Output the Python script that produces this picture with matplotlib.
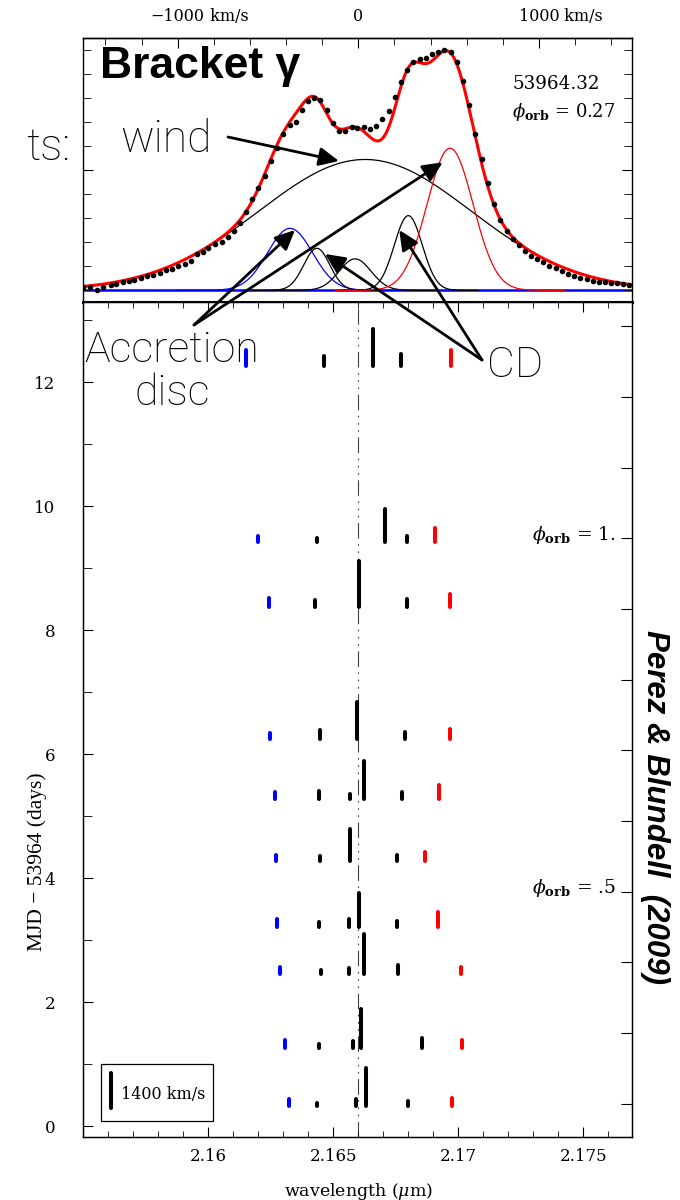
import numpy as np
import matplotlib
matplotlib.use('Agg')
import matplotlib.pyplot as plt
from matplotlib.patches import FancyArrowPatch, Rectangle
from matplotlib.ticker import MultipleLocator, FixedLocator

plt.rcParams['font.family'] = ['DejaVu Serif']
plt.rcParams['mathtext.fontset'] = 'dejavuserif'

C_KMS = 299792.458
LAM0 = 2.166          # Br gamma, zero velocity (micron)

# ---- upper panel: observed profile at MJD 53964.32 (flux above continuum)
spec_wl = [2.15500, 2.15527, 2.15556, 2.15580, 2.15610, 2.15631, 2.15658, 2.15683,
           2.15703, 2.15731, 2.15754, 2.15780, 2.15807, 2.15831, 2.15854, 2.15880,
           2.15907, 2.15930, 2.15954, 2.15978, 2.15998, 2.16027, 2.16054, 2.16078,
           2.16102, 2.16127, 2.16151, 2.16176, 2.16200, 2.16227, 2.16251, 2.16275,
           2.16300, 2.16327, 2.16350, 2.16374, 2.16400, 2.16424, 2.16447, 2.16474,
           2.16498, 2.16523, 2.16547, 2.16574, 2.16596, 2.16623, 2.16647, 2.16671,
           2.16696, 2.16722, 2.16747, 2.16771, 2.16796, 2.16820, 2.16847, 2.16871,
           2.16896, 2.16920, 2.16944, 2.16970, 2.16994, 2.17020, 2.17044, 2.17068,
           2.17094, 2.17118, 2.17143, 2.17167, 2.17194, 2.17218, 2.17243, 2.17267,
           2.17291, 2.17316, 2.17340, 2.17364, 2.17390, 2.17414, 2.17438, 2.17464,
           2.17488, 2.17514, 2.17538, 2.17563, 2.17587, 2.17611, 2.17636, 2.17660,
           2.17684]
spec_flux = [0.13, 0.13, 0.00, 0.13, 0.22, 0.25, 0.36, 0.40, 0.43, 0.53, 0.61, 0.64,
             0.73, 0.83, 0.88, 1.03, 1.08, 1.23, 1.53, 1.61, 1.75, 1.92, 2.00, 2.23,
             2.47, 2.79, 3.26, 3.79, 4.25, 4.76, 5.40, 5.93, 6.51, 6.89, 7.00, 7.51,
             7.90, 8.03, 7.92, 7.51, 6.96, 6.64, 6.64, 6.82, 6.78, 6.79, 6.72, 6.85,
             7.13, 7.47, 8.05, 8.67, 9.18, 9.50, 9.63, 9.69, 9.83, 9.94, 10.01, 9.94,
             9.50, 8.72, 7.72, 6.53, 5.47, 4.46, 3.61, 2.93, 2.48, 2.14, 1.89, 1.65,
             1.44, 1.30, 1.17, 1.03, 0.92, 0.82, 0.68, 0.60, 0.53, 0.46, 0.40, 0.36,
             0.33, 0.32, 0.29, 0.28, 0.22]

# Gaussian components of the fit: wind, accretion disc (blue/red), circumbinary disc etc.
comp_names = ['wind', 'disc_blue', 'cd1', 'cd2', 'cd3', 'disc_red']
comp_center = [2.16627, 2.16327, 2.16434, 2.16587, 2.16800, 2.16967]
comp_amp = [5.45, 2.58, 1.75, 1.31, 3.11, 5.92]
comp_sigma = [0.00424, 0.00090, 0.00052, 0.00064, 0.00056, 0.00092]
comp_color = ['black', 'blue', 'black', 'black', 'black', 'red']

# ---- lower panel: fitted component centres and widths per epoch
epoch_day = [12.27, 9.42, 8.38, 6.24, 5.28, 4.28, 3.22, 2.45, 1.27, 0.32]
blue_wl = [2.16152, 2.16198, 2.16241, 2.16245, 2.16265, 2.16272, 2.16273, 2.16288, 2.16306, 2.16323]
blue_fwhm = [630, 270, 340, 280, 280, 260, 320, 320, 320, 320]
red_wl = [2.16972, 2.16908, 2.16968, 2.16965, 2.16924, 2.16865, 2.16920, 2.17010, 2.17014, 2.16976]
red_fwhm = [650, 600, 500, 420, 580, 360, 580, 320, 290, 350]
black_wl = [[2.16462, 2.16658, 2.16770],
            [2.16435, 2.16705, 2.16795],
            [2.16427, 2.16604, 2.16794],
            [2.16447, 2.16594, 2.16787],
            [2.16441, 2.16565, 2.16622, 2.16775],
            [2.16447, 2.16568, 2.16754],
            [2.16443, 2.16561, 2.16601, 2.16754],
            [2.16450, 2.16561, 2.16622, 2.16757],
            [2.16441, 2.16578, 2.16611, 2.16854],
            [2.16436, 2.16592, 2.16629, 2.16800]]
black_fwhm = [[390, 1490, 490],
              [170, 1350, 240],
              [280, 1880, 320],
              [380, 1510, 310],
              [310, 200, 1560, 280],
              [190, 1320, 230],
              [210, 320, 1380, 250],
              [190, 280, 1650, 390],
              [140, 280, 1560, 380],
              [150, 300, 1550, 230]]
legend_kms = 1400
BAR_SCALE = 0.555 / 1400.0      # days of bar length per km/s

# orbital phase scale on the right axis
phase_ref_day = 9.484            # phase 1.0
phase_period = 11.4

W, H = 680, 1200
fig = plt.figure(figsize=(W / 100, H / 100), dpi=100)
fig.patch.set_facecolor('white')


def fx(px):
    return px / W


def fy(py):
    return 1 - py / H


left, right = 83.3, 631.7
ax_top = fig.add_axes([fx(left), fy(301.7), fx(right - left), (301.7 - 38) / H])
ax_bot = fig.add_axes([fx(left), fy(1137.3), fx(right - left), (1137.3 - 301.7) / H])

xlim = (2.155, 2.176936)

# ---------------- upper panel
lam = np.linspace(xlim[0], xlim[1], 800)
total = np.zeros_like(lam)
ax_top.axhline(0, color='blue', lw=1.8, zorder=1)
for c, a, s, col in zip(comp_center, comp_amp, comp_sigma, comp_color):
    g = a * np.exp(-0.5 * ((lam - c) / s) ** 2)
    total += g
    sel = np.abs(lam - c) < 5 * s
    ax_top.plot(lam[sel], g[sel], color=col, lw=0.9, zorder=2)
ax_top.plot(lam, total, color='red', lw=2.2, zorder=3)
ax_top.plot(spec_wl, spec_flux, 'o', color='black', ms=3.0, zorder=4)

ax_top.set_xlim(xlim)
ax_top.set_ylim(-0.475, 10.51)
ax_top.yaxis.set_major_locator(FixedLocator([5]))
ax_top.yaxis.set_minor_locator(MultipleLocator(1))
ax_top.tick_params(axis='y', which='both', direction='in', left=True, right=True,
                   labelleft=False)
ax_top.tick_params(axis='y', which='major', length=7.5)
ax_top.tick_params(axis='y', which='minor', length=5.8)
ax_top.tick_params(axis='x', which='both', bottom=False, top=False, labelbottom=False)
for sp in ax_top.spines.values():
    sp.set_linewidth(1.0)
ax_top.spines['bottom'].set_linewidth(2.2)


def wl_to_v(wl):
    return (np.asarray(wl) / LAM0 - 1) * C_KMS


def v_to_wl(v):
    return LAM0 * (1 + np.asarray(v) / C_KMS)


secx = ax_top.secondary_xaxis('top', functions=(wl_to_v, v_to_wl))
secx.set_xticks([-1000, 0, 1000])
secx.set_xticklabels(['\u22121000', '0', '1000'])
secx.xaxis.set_minor_locator(MultipleLocator(200))
secx.tick_params(which='both', direction='in', labelsize=11.5, pad=9)
secx.tick_params(which='major', length=7)
secx.tick_params(which='minor', length=5)
secx.spines['top'].set_linewidth(1.0)

ax_top.text(fx(512), fy(84), '53964.32', transform=fig.transFigure, fontsize=13.2,
            va='center', ha='left')
ax_top.text(fx(512), fy(112), r'$\phi_{\mathbf{orb}}$ = 0.27', transform=fig.transFigure,
            fontsize=13, va='center', ha='left')

# ---------------- lower panel
ax_bot.axvline(LAM0, color='0.25', lw=0.8, dashes=(14, 5, 1.5, 5, 1.5, 5, 1.5, 5), zorder=1)
bar_kw = dict(lw=2.9, solid_capstyle='round', zorder=3)
for i, d in enumerate(epoch_day):
    ax_bot.plot([blue_wl[i]] * 2, [d, d + blue_fwhm[i] * BAR_SCALE], color='blue', **bar_kw)
    ax_bot.plot([red_wl[i]] * 2, [d, d + red_fwhm[i] * BAR_SCALE], color='red', **bar_kw)
    for w, f in zip(black_wl[i], black_fwhm[i]):
        ax_bot.plot([w, w], [d, d + f * BAR_SCALE], color='black', **bar_kw)

# scale bar legend
ax_bot.add_patch(Rectangle((2.155708, 0.085), 2.160200 - 2.155708, 1.0 - 0.085,
                           fill=False, lw=0.9, color='black', zorder=4))
ax_bot.plot([2.156096] * 2, [0.30, 0.30 + legend_kms * BAR_SCALE], color='black', **bar_kw)
ax_bot.text(2.156496, 0.52, f'{legend_kms} km/s', fontsize=11.5, va='center', ha='left')

ax_bot.set_xlim(xlim)
ax_bot.set_ylim(-0.177, 13.30)
ax_bot.xaxis.set_major_locator(MultipleLocator(0.005))
ax_bot.xaxis.set_minor_locator(MultipleLocator(0.001))
ax_bot.set_xticks([2.16, 2.165, 2.17, 2.175])
ax_bot.set_xticklabels(['2.16', '2.165', '2.17', '2.175'])
ax_bot.yaxis.set_major_locator(MultipleLocator(2))
ax_bot.yaxis.set_minor_locator(MultipleLocator(1))
ax_bot.tick_params(axis='x', which='both', direction='in', top=True, bottom=True,
                   labelsize=12, pad=8)
ax_bot.tick_params(axis='x', which='major', length=7)
ax_bot.tick_params(axis='x', which='minor', length=4.5)
ax_bot.tick_params(axis='y', which='both', direction='in', left=True, right=False,
                   labelsize=12, pad=20)
ax_bot.tick_params(axis='y', which='major', length=7.5)
ax_bot.tick_params(axis='y', which='minor', length=6.5)
for sp in ax_bot.spines.values():
    sp.set_linewidth(1.0)

ax_ph = ax_bot.twinx()
lo, hi = ax_bot.get_ylim()
ax_ph.set_ylim(1.0 + (lo - phase_ref_day) / phase_period, 1.0 + (hi - phase_ref_day) / phase_period)
ax_ph.yaxis.set_major_locator(MultipleLocator(0.1))
ax_ph.tick_params(axis='y', direction='in', length=8, labelright=False)
ax_ph.text(fx(532), fy(535), r'$\phi_{\mathbf{orb}}$ = 1.', transform=fig.transFigure,
           fontsize=13.5, va='center', ha='left')
ax_ph.text(fx(532), fy(888), r'$\phi_{\mathbf{orb}}$ = .5', transform=fig.transFigure,
           fontsize=13.5, va='center', ha='left')

fig.text(fx(37), fy(862), 'MJD \u2212 53964 (days)', rotation=90, fontsize=15.5,
         ha='center', va='center', family='Liberation Serif')
fig.text(fx(359), fy(1191), r'wavelength ($\mu$m)', fontsize=12.5, ha='center', va='center')

# ---------------- annotations
sans = ['Liberation Sans', 'DejaVu Sans']
light = ['Roboto', 'DejaVu Sans']
fig.text(fx(100), fy(78), 'Bracket \u03b3', family=sans, weight='bold', fontsize=32,
         ha='left', va='baseline')
fig.text(fx(120), fy(152), 'wind', family=light, weight='light', fontsize=32,
         ha='left', va='baseline')
fig.text(fx(70), fy(160), 'ts:', family=light, weight='light', fontsize=32,
         ha='right', va='baseline')
fig.text(fx(172), fy(362), 'Accretion', family=light, weight='light', fontsize=31,
         ha='center', va='baseline')
fig.text(fx(172), fy(405), 'disc', family=light, weight='light', fontsize=31,
         ha='center', va='baseline')
fig.text(fx(487), fy(377), 'CD', family=light, weight='light', fontsize=31,
         ha='left', va='baseline')
fig.text(fx(655), fy(807), 'Perez & Blundell  (2009)', family=sans, weight='bold',
         style='italic', fontsize=22.5, rotation=-90, ha='center', va='center')

arrows = [((228, 137), (339, 161)),
          ((194, 325), (295, 230)),
          ((194, 325), (442.7, 162.3)),
          ((482, 360), (325, 254)),
          ((482, 360), (399.3, 230))]
for (x0, y0), (x1, y1) in arrows:
    fig.add_artist(FancyArrowPatch((fx(x0), fy(y0)), (fx(x1), fy(y1)),
                                   transform=fig.transFigure,
                                   arrowstyle='-|>,head_length=0.6,head_width=0.28',
                                   mutation_scale=20, lw=2.0, color='black',
                                   shrinkA=0, shrinkB=0, zorder=10))

# ' km/s' after the velocity numbers
fig.canvas.draw()
rend = fig.canvas.get_renderer()
for lab in secx.xaxis.get_ticklabels():
    if lab.get_text() in ('\u22121000', '1000'):
        bb = lab.get_window_extent(rend)
        fig.text(bb.x1 / W, bb.y0 / H, ' km/s', fontsize=11.5, ha='left', va='bottom')

fig.savefig('out.png', dpi=100)
